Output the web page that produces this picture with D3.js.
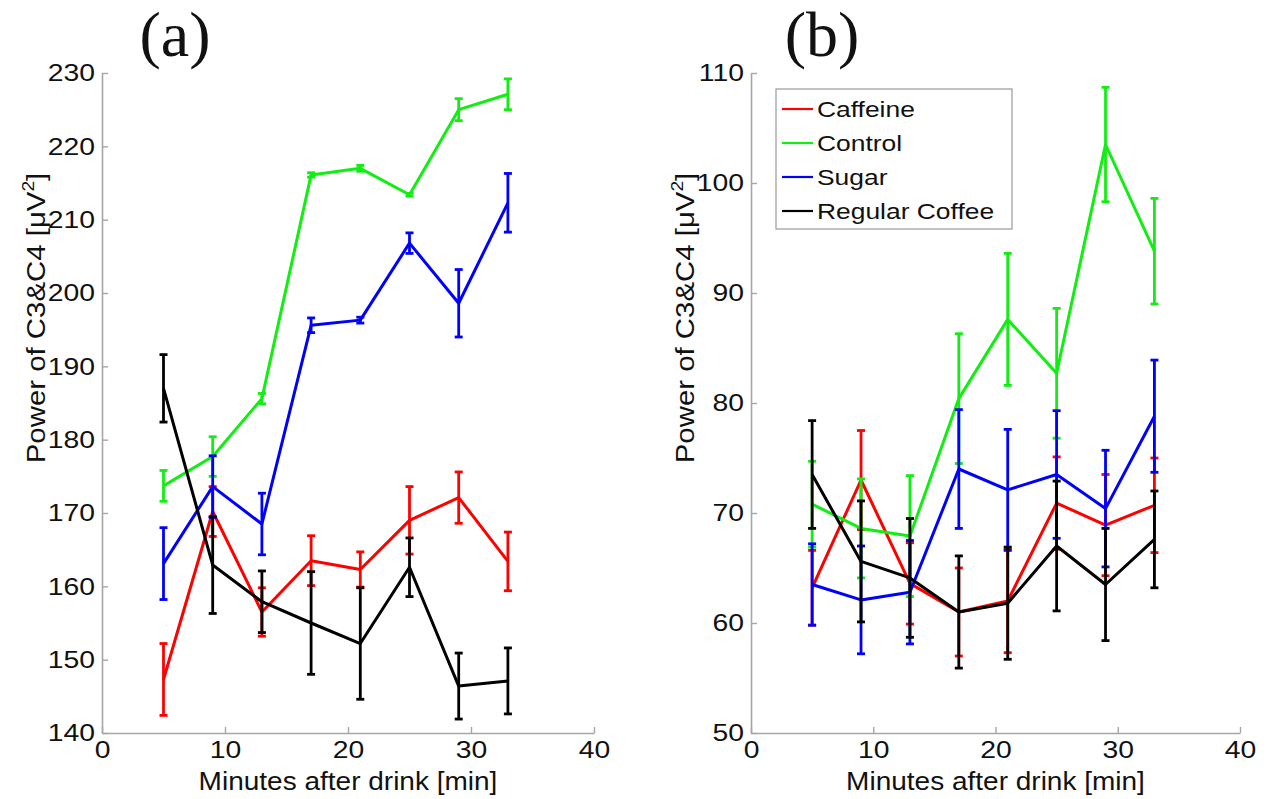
<!DOCTYPE html>
<html>
<head>
<meta charset="utf-8">
<script src="https://cdn.jsdelivr.net/npm/d3@7"></script>
<style>
  html, body { margin: 0; padding: 0; background: #fff; }
  svg { display: block; }
  text { font-family: "Liberation Sans", Arial, sans-serif; fill: #111; }
</style>
</head>
<body>
<svg id="chart" width="1275" height="799"></svg>
<script>
// ---------- data ----------
const minutes = [5, 9, 13, 17, 21, 25, 29, 33];
const seriesNames = ["Caffeine", "Control", "Sugar", "Regular Coffee"];
const seriesColors = ["#ff0000", "#11ee11", "#0000ff", "#000000"];
const xTicks = [0, 10, 20, 30, 40];

// panel (a)
const aCaffeine    = [147.3, 170.2, 156.5, 163.5, 162.3, 169.0, 172.1, 163.4];
const aCaffeineErr = [4.9, 3.4, 3.3, 3.4, 2.4, 4.6, 3.5, 4.0];
const aControl     = [173.7, 177.7, 185.6, 216.1, 217.0, 213.4, 225.0, 227.1];
const aControlErr  = [2.1, 2.7, 0.7, 0.3, 0.4, 0.2, 1.5, 2.1];
const aSugar       = [163.1, 173.6, 168.5, 195.6, 196.3, 206.8, 198.6, 212.3];
const aSugarErr    = [4.9, 4.2, 4.2, 1.0, 0.4, 1.4, 4.6, 4.0];
const aCoffee      = [187.0, 162.9, 157.9, 155.0, 152.2, 162.6, 146.4, 147.1];
const aCoffeeErr   = [4.6, 6.6, 4.2, 7.0, 7.6, 4.0, 4.5, 4.5];
const aYTicks = [140, 150, 160, 170, 180, 190, 200, 210, 220, 230];

// panel (b)
const bCaffeine    = [63.2, 73.0, 63.6, 61.0, 62.0, 70.9, 68.9, 70.7];
const bCaffeineErr = [3.4, 4.5, 3.7, 4.0, 4.7, 4.2, 4.6, 4.3];
const bControl     = [70.8, 68.6, 67.9, 80.4, 87.6, 82.7, 103.5, 93.8];
const bControlErr  = [3.9, 4.5, 5.5, 5.9, 6.0, 5.9, 5.2, 4.8];
const bSugar       = [63.5, 62.1, 62.8, 74.0, 72.1, 73.5, 70.4, 78.8];
const bSugarErr    = [3.7, 4.9, 4.7, 5.4, 5.5, 5.8, 5.3, 5.1];
const bCoffee      = [73.5, 65.6, 64.1, 61.0, 61.8, 67.0, 63.5, 67.6];
const bCoffeeErr   = [4.9, 5.5, 5.4, 5.1, 5.1, 5.9, 5.1, 4.4];
const bYTicks = [50, 60, 70, 80, 90, 100, 110];

// ---------- drawing ----------
const svg = d3.select("#chart");
const STRETCH = 1.18;
function stretch(sel, f) {
  sel.each(function () {
    const len = this.getComputedTextLength();
    if (len > 0) {
      d3.select(this).attr("textLength", len * f).attr("lengthAdjust", "spacingAndGlyphs");
    }
  });
}

function panel(cfg) {
  const x = d3.scaleLinear().domain([0, 40]).range([cfg.left, cfg.right]);
  const y = d3.scaleLinear().domain(cfg.yDomain).range([733, 73]);
  const g = svg.append("g");

  // axes
  const xAxis = d3.axisBottom(x).tickValues(xTicks).tickSizeInner(-6).tickSizeOuter(0).tickPadding(8);
  const yAxis = d3.axisLeft(y).tickValues(cfg.yTicks).tickSizeInner(-6).tickSizeOuter(0).tickPadding(7);
  const gx = g.append("g").attr("transform", `translate(0,${y.range()[0]})`).call(xAxis);
  const gy = g.append("g").attr("transform", `translate(${x.range()[0]},0)`).call(yAxis);
  [gx, gy].forEach(a => {
    a.select(".domain").attr("stroke", "#a6a6a6").attr("stroke-width", 1.6);
    a.selectAll(".tick line").attr("stroke", "#a6a6a6").attr("stroke-width", 1.4);
    a.selectAll(".tick text").attr("font-size", 24).attr("fill", "#111")
      .style("font-family", '"Liberation Sans", Arial, sans-serif');
    stretch(a.selectAll(".tick text"), STRETCH);
  });

  // series
  const series = cfg.series.map((s, i) => ({
    name: seriesNames[i], color: seriesColors[i],
    pts: minutes.map((m, j) => ({ m, v: s.vals[j], e: s.errs[j] }))
  }));
  const line = d3.line().x(d => x(d.m)).y(d => y(d.v));
  const cap = 4;
  series.forEach(s => {
    const sg = g.append("g");
    const eb = sg.selectAll("g.eb").data(s.pts).join("g").attr("class", "eb")
      .attr("stroke", s.color).attr("stroke-width", 2.8);
    eb.append("line").attr("x1", d => x(d.m)).attr("x2", d => x(d.m))
      .attr("y1", d => y(d.v - d.e)).attr("y2", d => y(d.v + d.e));
    eb.append("line").attr("x1", d => x(d.m) - cap).attr("x2", d => x(d.m) + cap)
      .attr("y1", d => y(d.v + d.e)).attr("y2", d => y(d.v + d.e));
    eb.append("line").attr("x1", d => x(d.m) - cap).attr("x2", d => x(d.m) + cap)
      .attr("y1", d => y(d.v - d.e)).attr("y2", d => y(d.v - d.e));
    sg.append("path").datum(s.pts).attr("d", line).attr("fill", "none")
      .attr("stroke", s.color).attr("stroke-width", 3).attr("stroke-linejoin", "round");
  });

  // y label
  const yl = g.append("text").attr("transform", `translate(${cfg.ylabelX},${cfg.ylabelY}) rotate(-90)`)
    .attr("text-anchor", "middle").attr("font-size", 26);
  yl.append("tspan").text("Power of C3&C4 [\u03bcV");
  yl.append("tspan").text("2").attr("font-size", 17).attr("dy", -11);
  yl.append("tspan").text("]").attr("dy", 11);
  stretch(yl, 1.13);

  // x label
  const xl = g.append("text").attr("x", (x.range()[0] + x.range()[1]) / 2).attr("y", 790)
    .attr("text-anchor", "middle").attr("font-size", 25).text("Minutes after drink [min]");
  stretch(xl, 1.12);

  // panel title
  g.append("text").attr("x", cfg.titleX).attr("y", 56).attr("text-anchor", "middle")
    .attr("font-size", 64).style("font-family", '"Liberation Serif", "Times New Roman", serif')
    .text(cfg.title);

  return { x, y, series };
}

panel({
  left: 102, right: 594, yDomain: [140, 230], yTicks: aYTicks,
  ylabelX: 45, ylabelY: 318, titleX: 175, title: "(a)",
  series: [
    { vals: aCaffeine, errs: aCaffeineErr },
    { vals: aControl, errs: aControlErr },
    { vals: aSugar, errs: aSugarErr },
    { vals: aCoffee, errs: aCoffeeErr }
  ]
});

panel({
  left: 751, right: 1240, yDomain: [50, 110], yTicks: bYTicks,
  ylabelX: 694, ylabelY: 318, titleX: 822, title: "(b)",
  series: [
    { vals: bCaffeine, errs: bCaffeineErr },
    { vals: bControl, errs: bControlErr },
    { vals: bSugar, errs: bSugarErr },
    { vals: bCoffee, errs: bCoffeeErr }
  ]
});

// legend (panel b)
const lg = svg.append("g");
lg.append("rect").attr("x", 776).attr("y", 89).attr("width", 236).attr("height", 140)
  .attr("fill", "#fff").attr("stroke", "#9a9a9a").attr("stroke-width", 1.2);
const items = lg.selectAll("g.item").data(seriesNames).join("g").attr("class", "item")
  .attr("transform", (d, i) => `translate(0,${109 + i * 34})`);
items.append("line").attr("x1", 782).attr("x2", 813).attr("y1", 0).attr("y2", 0)
  .attr("stroke", (d, i) => seriesColors[i]).attr("stroke-width", 2.2);
const lt = items.append("text").attr("x", 817).attr("y", 0).attr("dy", "0.36em")
  .attr("font-size", 22).text(d => d);
stretch(lt, 1.2);
</script>
</body>
</html>
